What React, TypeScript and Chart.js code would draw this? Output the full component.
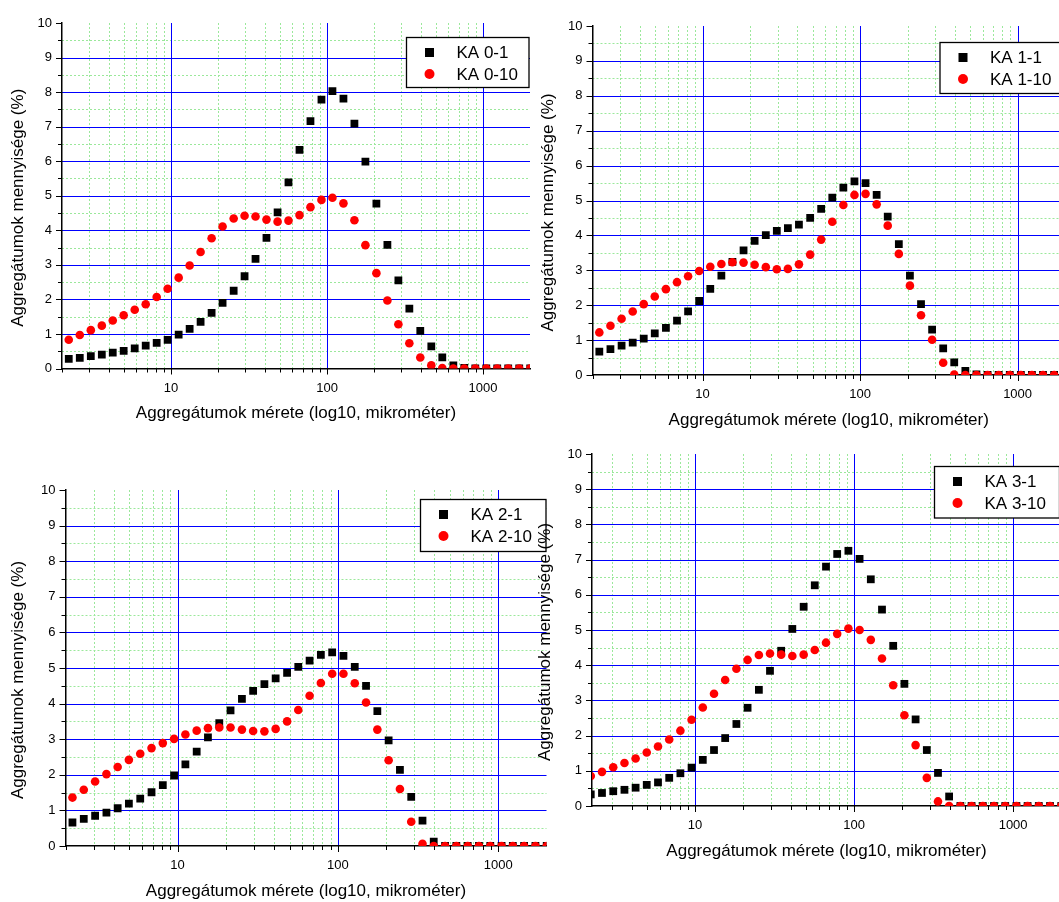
import { useEffect, useRef } from 'react';
import { Chart, registerables } from 'chart.js';

Chart.register(...registerables);

const FONT = "'Liberation Sans', Arial, Helvetica, sans-serif";

// size classes (µm)
const sizes = [2.21, 2.6, 3.06, 3.6, 4.23, 4.97, 5.85, 6.88, 8.09, 9.51, 11.19, 13.16, 15.47, 18.2, 21.4, 25.2, 29.6, 34.8, 40.9, 48.2, 56.6, 66.6, 78.3, 92.1, 108.3, 127.4, 149.8, 176.2, 207.2, 243.7, 286.6, 337, 396, 466, 548, 645, 758, 892, 1049, 1233, 1450, 1706, 2006];

const ka0_1 = [0.28, 0.31, 0.36, 0.40, 0.46, 0.51, 0.58, 0.66, 0.74, 0.83, 0.98, 1.15, 1.35, 1.61, 1.90, 2.25, 2.67, 3.17, 3.78, 4.52, 5.39, 6.33, 7.16, 7.78, 8.03, 7.81, 7.09, 5.99, 4.77, 3.58, 2.55, 1.73, 1.09, 0.64, 0.32, 0.09, 0.02, 0, 0, 0, 0, 0, 0];
const ka0_10 = [0.83, 0.97, 1.11, 1.24, 1.39, 1.54, 1.70, 1.86, 2.07, 2.31, 2.63, 2.98, 3.37, 3.77, 4.11, 4.34, 4.42, 4.40, 4.31, 4.25, 4.28, 4.44, 4.67, 4.88, 4.94, 4.78, 4.29, 3.57, 2.76, 1.97, 1.28, 0.73, 0.32, 0.09, 0.01, 0, 0, 0, 0, 0, 0, 0, 0];
const ka1_1 = [0.67, 0.74, 0.84, 0.93, 1.04, 1.19, 1.35, 1.56, 1.82, 2.12, 2.47, 2.85, 3.24, 3.57, 3.84, 4.01, 4.13, 4.21, 4.31, 4.50, 4.76, 5.08, 5.37, 5.55, 5.50, 5.16, 4.54, 3.75, 2.85, 2.03, 1.30, 0.76, 0.36, 0.12, 0.02, 0, 0, 0, 0, 0, 0, 0, 0];
const ka1_10 = [1.22, 1.41, 1.61, 1.82, 2.03, 2.25, 2.46, 2.66, 2.83, 2.98, 3.10, 3.18, 3.23, 3.22, 3.16, 3.09, 3.03, 3.04, 3.17, 3.45, 3.88, 4.39, 4.87, 5.16, 5.19, 4.89, 4.28, 3.47, 2.56, 1.71, 1.01, 0.35, 0.01, 0, 0, 0, 0, 0, 0, 0, 0, 0, 0];
const ka2_1 = [0.66, 0.76, 0.85, 0.94, 1.06, 1.19, 1.33, 1.51, 1.71, 1.98, 2.29, 2.65, 3.05, 3.45, 3.81, 4.13, 4.36, 4.55, 4.71, 4.86, 5.03, 5.21, 5.37, 5.44, 5.34, 5.03, 4.50, 3.79, 2.97, 2.14, 1.38, 0.71, 0.12, 0, 0, 0, 0, 0, 0, 0, 0, 0, 0];
const ka2_10 = [1.36, 1.58, 1.81, 2.02, 2.22, 2.42, 2.59, 2.75, 2.89, 3.01, 3.13, 3.24, 3.31, 3.33, 3.33, 3.27, 3.23, 3.22, 3.29, 3.50, 3.82, 4.22, 4.58, 4.84, 4.84, 4.57, 4.03, 3.27, 2.41, 1.60, 0.68, 0.06, 0, 0, 0, 0, 0, 0, 0, 0, 0, 0, 0];
const ka3_1 = [0.33, 0.37, 0.42, 0.46, 0.52, 0.60, 0.67, 0.80, 0.93, 1.09, 1.31, 1.59, 1.93, 2.33, 2.79, 3.30, 3.84, 4.41, 5.03, 5.66, 6.27, 6.80, 7.16, 7.25, 7.02, 6.44, 5.58, 4.55, 3.47, 2.46, 1.59, 0.94, 0.27, 0, 0, 0, 0, 0, 0, 0, 0, 0, 0];
const ka3_10 = [0.85, 0.97, 1.10, 1.22, 1.35, 1.52, 1.69, 1.89, 2.14, 2.45, 2.80, 3.19, 3.58, 3.90, 4.15, 4.29, 4.33, 4.30, 4.26, 4.30, 4.43, 4.64, 4.89, 5.04, 5.00, 4.72, 4.19, 3.43, 2.58, 1.73, 0.80, 0.13, 0, 0, 0, 0, 0, 0, 0, 0, 0, 0, 0];

const yTickValues = [0, 1, 2, 3, 4, 5, 6, 7, 8, 9, 10];
const yMinorValues = [0.5, 1.5, 2.5, 3.5, 4.5, 5.5, 6.5, 7.5, 8.5, 9.5];
const xMajorValues = [10, 100, 1000];
const xMinorValues = [2, 3, 4, 5, 6, 7, 8, 9, 20, 30, 40, 50, 60, 70, 80, 90, 200, 300, 400, 500, 600, 700, 800, 900];

const xTitle = 'Aggregátumok mérete (log10, mikrométer)';
const yTitle = 'Aggregátumok mennyisége (%)';

const MAJOR_GRID = '#0000ff';
const MINOR_GRID = '#9be89b';

type Rect = { left: number; top: number; width: number; height: number };
type PanelCfg = {
  canvas: Rect;
  area: { left: number; right: number; top: number; bottom: number };
  xMin: number;
  legend: { x: number; y: number; w: number; h: number };
  yTitleX: number;
  names: [string, string];
  series: [number[], number[]];
};

const panels: PanelCfg[] = [
  {
    canvas: { left: 0, top: 0, width: 540, height: 440 },
    area: { left: 62, right: 530, top: 23, bottom: 368.5 },
    xMin: 2,
    legend: { x: 406.5, y: 37.5, w: 122.5, h: 50 },
    yTitleX: 18,
    names: ['KA 0-1', 'KA 0-10'],
    series: [ka0_1, ka0_10],
  },
  {
    canvas: { left: 535, top: 0, width: 535, height: 440 },
    area: { left: 592.5, right: 1065, top: 26, bottom: 375 },
    xMin: 2,
    legend: { x: 940, y: 42.5, w: 125, h: 51 },
    yTitleX: 548.5,
    names: ['KA 1-1', 'KA 1-10'],
    series: [ka1_1, ka1_10],
  },
  {
    canvas: { left: 0, top: 440, width: 560, height: 462 },
    area: { left: 65.5, right: 546.5, top: 490, bottom: 846 },
    xMin: 2,
    legend: { x: 420.5, y: 499.5, w: 125.5, h: 52 },
    yTitleX: 18.5,
    names: ['KA 2-1', 'KA 2-10'],
    series: [ka2_1, ka2_10],
  },
  {
    canvas: { left: 530, top: 440, width: 535, height: 462 },
    area: { left: 592, right: 1061, top: 454, bottom: 806 },
    xMin: 2.25,
    legend: { x: 934.5, y: 466.5, w: 125, h: 51.5 },
    yTitleX: 545,
    names: ['KA 3-1', 'KA 3-10'],
    series: [ka3_1, ka3_10],
  },
];

function makeDecor(cfg: PanelCfg) {
  const c = cfg.canvas;
  return {
    id: 'decor',
    beforeDraw(chart: any) {
      const { ctx, chartArea: a } = chart;
      const x = chart.scales.x;
      const y = chart.scales.y;
      ctx.save();
      ctx.lineWidth = 1;
      // minor grid
      ctx.strokeStyle = MINOR_GRID;
      ctx.setLineDash([2, 2]);
      ctx.beginPath();
      for (const v of xMinorValues) {
        if (v <= x.min || v >= x.max) continue;
        const px = Math.round(x.getPixelForValue(v)) + 0.5;
        ctx.moveTo(px, a.top);
        ctx.lineTo(px, a.bottom);
      }
      for (const v of yMinorValues) {
        const py = Math.round(y.getPixelForValue(v)) + 0.5;
        ctx.moveTo(a.left, py);
        ctx.lineTo(a.right, py);
      }
      ctx.stroke();
      // major grid
      ctx.setLineDash([]);
      ctx.strokeStyle = MAJOR_GRID;
      ctx.beginPath();
      for (const v of xMajorValues) {
        if (v <= x.min || v >= x.max) continue;
        const px = Math.round(x.getPixelForValue(v)) + 0.5;
        ctx.moveTo(px, a.top);
        ctx.lineTo(px, a.bottom);
      }
      for (const v of yTickValues) {
        if (v <= y.min || v >= y.max) continue;
        const py = Math.round(y.getPixelForValue(v)) + 0.5;
        ctx.moveTo(a.left, py);
        ctx.lineTo(a.right, py);
      }
      ctx.stroke();
      // tick marks
      ctx.strokeStyle = '#000';
      ctx.beginPath();
      for (const v of xMajorValues) {
        if (v < x.min || v > x.max) continue;
        const px = Math.round(x.getPixelForValue(v)) + 0.5;
        ctx.moveTo(px, a.bottom);
        ctx.lineTo(px, a.bottom + 6);
      }
      for (const v of xMinorValues) {
        if (v < x.min || v > x.max) continue;
        const px = Math.round(x.getPixelForValue(v)) + 0.5;
        ctx.moveTo(px, a.bottom);
        ctx.lineTo(px, a.bottom + 4);
      }
      for (const v of yTickValues) {
        const py = Math.round(y.getPixelForValue(v)) + 0.5;
        ctx.moveTo(a.left - 6, py);
        ctx.lineTo(a.left, py);
      }
      for (const v of yMinorValues) {
        const py = Math.round(y.getPixelForValue(v)) + 0.5;
        ctx.moveTo(a.left - 4, py);
        ctx.lineTo(a.left, py);
      }
      ctx.stroke();
      ctx.restore();
    },
    afterDraw(chart: any) {
      const { ctx, chartArea: a } = chart;
      ctx.save();
      // legend
      const lx = cfg.legend.x - c.left;
      const ly = cfg.legend.y - c.top;
      ctx.fillStyle = '#fff';
      ctx.fillRect(lx, ly, cfg.legend.w, cfg.legend.h);
      ctx.strokeStyle = '#000';
      ctx.lineWidth = 1.3;
      ctx.strokeRect(lx, ly, cfg.legend.w, cfg.legend.h);
      const rows = [15, 36.5];
      chart.data.datasets.forEach((ds: any, i: number) => {
        const cy = ly + rows[i];
        const cx = lx + 23;
        ctx.fillStyle = ds.backgroundColor;
        if (ds.pointStyle === 'rect') {
          ctx.fillRect(cx - 4.5, cy - 4.5, 9, 9);
        } else {
          ctx.beginPath();
          ctx.arc(cx, cy, 5, 0, Math.PI * 2);
          ctx.fill();
        }
        ctx.fillStyle = '#000';
        ctx.font = `17px ${FONT}`;
        ctx.textAlign = 'left';
        ctx.textBaseline = 'middle';
        ctx.fillText(ds.label, lx + 50, cy + 1);
      });
      // axis titles
      ctx.fillStyle = '#000';
      ctx.font = `17px ${FONT}`;
      ctx.textAlign = 'center';
      ctx.textBaseline = 'middle';
      ctx.fillText(xTitle, (a.left + a.right) / 2, a.bottom + 45);
      ctx.translate(cfg.yTitleX - c.left, (a.top + a.bottom) / 2 + 12);
      ctx.rotate(-Math.PI / 2);
      ctx.fillText(yTitle, 0, 0);
      ctx.restore();
    },
  };
}

function Panel({ cfg }: { cfg: PanelCfg }) {
  const ref = useRef<HTMLCanvasElement>(null);
  useEffect(() => {
    const canvas = ref.current;
    if (!canvas) return;
    const c = cfg.canvas;
    const areaLeft = cfg.area.left - c.left;
    const areaRight = cfg.area.right - c.left;
    const areaTop = cfg.area.top - c.top;
    const areaBottom = cfg.area.bottom - c.top;
    const XH = 40;
    const chart = new Chart(canvas, {
      type: 'scatter',
      data: {
        datasets: [
          {
            label: cfg.names[0],
            data: sizes.map((s, i) => ({ x: s, y: cfg.series[0][i] })),
            pointStyle: 'rect',
            pointRadius: 5.5,
            backgroundColor: '#000000',
            borderWidth: 0,
            order: 1,
          },
          {
            label: cfg.names[1],
            data: sizes.map((s, i) => ({ x: s, y: cfg.series[1][i] })),
            pointStyle: 'circle',
            pointRadius: 4.3,
            backgroundColor: '#ff0000',
            borderWidth: 0,
            order: 0,
          },
        ],
      },
      options: {
        responsive: false,
        animation: false,
        events: [],
        layout: {
          autoPadding: false,
          padding: {
            left: 0,
            top: areaTop,
            right: c.width - areaRight,
            bottom: c.height - areaBottom - XH,
          },
        },
        plugins: { legend: { display: false }, tooltip: { enabled: false } },
        scales: {
          x: {
            type: 'logarithmic',
            min: cfg.xMin,
            max: 2000,
            grid: { display: false, drawTicks: false },
            border: { display: true, color: '#000', width: 1.5 },
            ticks: {
              autoSkip: false,
              maxRotation: 0,
              minRotation: 0,
              padding: 11.7,
              color: '#000',
              font: { family: FONT, size: 13 },
              callback: (v: any) => String(v),
            },
            afterBuildTicks: (s: any) => {
              s.ticks = xMajorValues.filter((v) => v >= s.min && v <= s.max).map((v) => ({ value: v }));
            },
            afterFit: (s: any) => {
              s.height = XH;
              s.paddingLeft = 0;
              s.paddingRight = 0;
            },
          },
          y: {
            type: 'linear',
            min: 0,
            max: 10,
            grid: { display: false, drawTicks: false },
            border: { display: true, color: '#000', width: 1.5 },
            ticks: {
              padding: 10,
              color: '#000',
              font: { family: FONT, size: 13 },
              callback: (v: any) => String(v),
            },
            afterBuildTicks: (s: any) => {
              s.ticks = yTickValues.map((v) => ({ value: v }));
            },
            afterFit: (s: any) => {
              s.width = areaLeft;
              s.paddingTop = 0;
              s.paddingBottom = 0;
            },
          },
        },
      } as any,
      plugins: [makeDecor(cfg)],
    });
    return () => chart.destroy();
  }, [cfg]);
  return (
    <canvas
      ref={ref}
      width={cfg.canvas.width}
      height={cfg.canvas.height}
      style={{
        position: 'absolute',
        left: cfg.canvas.left,
        top: cfg.canvas.top,
        width: cfg.canvas.width,
        height: cfg.canvas.height,
      }}
    />
  );
}

export default function App() {
  return (
    <div
      style={{
        position: 'absolute',
        left: 0,
        top: 0,
        width: 1059,
        height: 902,
        overflow: 'hidden',
        background: '#fff',
      }}
    >
      {panels.map((p, i) => (
        <Panel key={i} cfg={p} />
      ))}
    </div>
  );
}
